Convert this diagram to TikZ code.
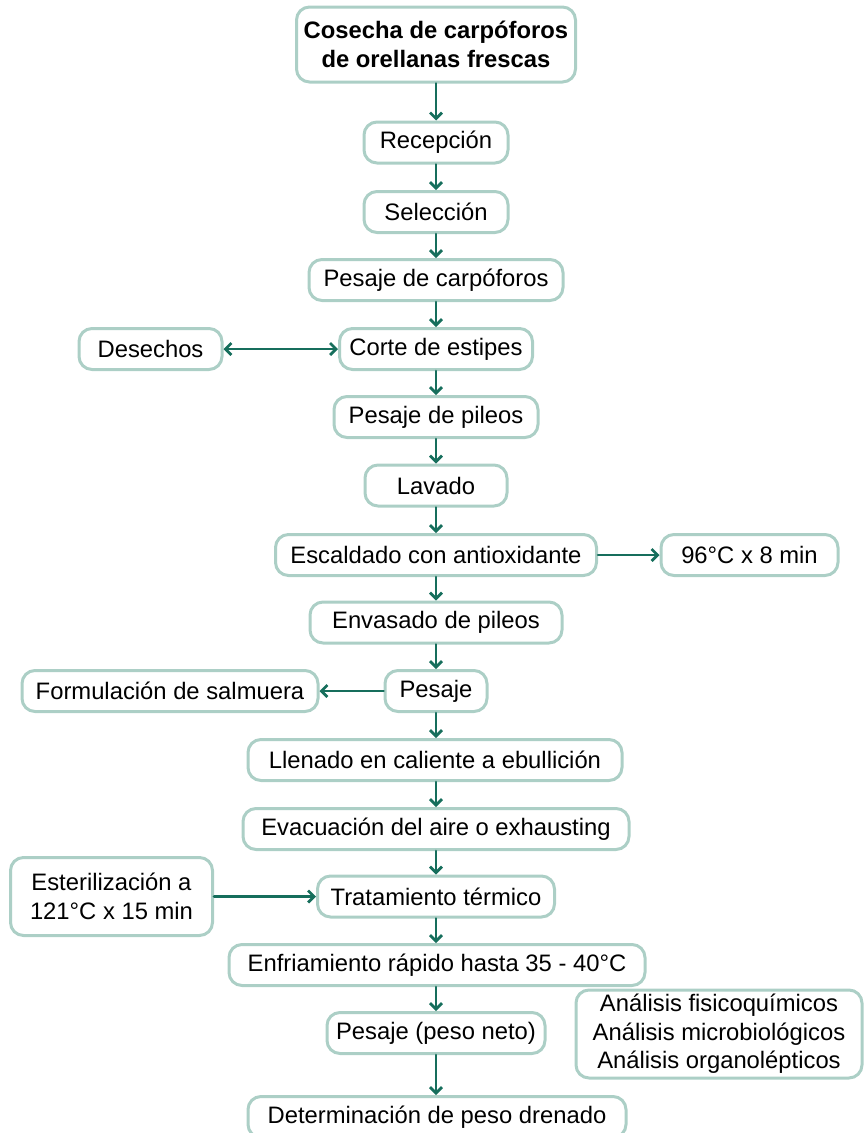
\documentclass[tikz,border=0pt]{standalone}
\usepackage{fontspec}
\setmainfont{Liberation Sans}
\usetikzlibrary{arrows.meta}
\definecolor{borde}{RGB}{172,207,198}
\definecolor{flecha}{RGB}{22,110,92}
\tikzset{
caja/.style={draw=borde,line width=3pt,rounded corners=13pt,fill=white,align=center,minimum height=41pt,inner xsep=6pt,inner ysep=3pt},
flujo/.style={draw=flecha,line width=2.7pt}
}
\begin{document}
\begin{tikzpicture}[x=1pt,y=1pt,line cap=round,>={Straight Barb[length=6pt,width=12pt]},font=\fontsize{23.8}{28.5}\selectfont]
\useasboundingbox (0,0) rectangle (864,-1133);
\node[caja,minimum width=279pt,minimum height=75pt,font=\fontsize{23.8}{28.5}\selectfont\bfseries] (cosecha) at (436,-44.5) {Cosecha de carpóforos\\de orellanas frescas};
\node[caja,minimum width=144pt] (recep) at (436,-142.5) {Recepción};
\node[caja,minimum width=144pt] (selec) at (436,-212) {Selección};
\node[caja,minimum width=254pt] (pcarp) at (436,-280) {Pesaje de carpóforos};
\node[caja,minimum width=193pt] (corte) at (436,-349) {Corte de estipes};
\node[caja,minimum width=143pt] (desechos) at (150.5,-349) {Desechos};
\node[caja,minimum width=204pt] (pileos) at (436,-417) {Pesaje de pileos};
\node[caja,minimum width=142pt] (lavado) at (436,-485.5) {Lavado};
\node[caja,minimum width=321pt] (escaldado) at (436,-555) {Escaldado con antioxidante};
\node[caja,minimum width=177pt] (temp) at (749.5,-555) {96°C x 8 min};
\node[caja,minimum width=252pt] (envasado) at (436,-622.5) {Envasado de pileos};
\node[caja,minimum width=102pt] (pesaje) at (436,-691) {Pesaje};
\node[caja,minimum width=296pt] (formul) at (170,-691) {Formulación de salmuera};
\node[caja,minimum width=374pt] (llenado) at (435,-760) {Llenado en caliente a ebullición};
\node[caja,minimum width=386pt] (evacua) at (436,-829) {Evacuación del aire o exhausting};
\node[caja,minimum width=237pt] (trata) at (436,-896.5) {Tratamiento térmico};
\node[caja,minimum width=202pt,minimum height=78pt] (esteril) at (111.5,-896.5) {Esterilización a\\121°C x 15 min};
\node[caja,minimum width=416pt] (enfria) at (437,-965) {Enfriamiento rápido hasta 35 - 40°C};
\node[caja,minimum width=218pt] (pneto) at (436,-1033) {Pesaje (peso neto)};
\node[caja,minimum width=286pt,minimum height=88pt] (analisis) at (719,-1034) {Análisis fisicoquímicos\\Análisis microbiológicos\\Análisis organolépticos};
\node[caja,minimum width=378pt] (determ) at (437,-1117) {Determinación de peso drenado};
\draw[flujo,->] (cosecha) -- (recep);
\draw[flujo,->] (recep) -- (selec);
\draw[flujo,->] (selec) -- (pcarp);
\draw[flujo,->] (pcarp) -- (corte);
\draw[flujo,<->] (corte) -- (desechos);
\draw[flujo,->] (corte) -- (pileos);
\draw[flujo,->] (pileos) -- (lavado);
\draw[flujo,->] (lavado) -- (escaldado);
\draw[flujo,->] (escaldado) -- (temp);
\draw[flujo,->] (escaldado) -- (envasado);
\draw[flujo,->] (envasado) -- (pesaje);
\draw[flujo,->] (pesaje) -- (formul);
\draw[flujo,->] (pesaje.south) -- (llenado.north -| pesaje);
\draw[flujo,->] (llenado.south -| pesaje) -- (evacua.north -| pesaje);
\draw[flujo,->] (evacua) -- (trata);
\draw[flujo,->] (esteril) -- (trata);
\draw[flujo,->] (trata.south) -- (enfria.north -| trata);
\draw[flujo,->] (enfria.south -| trata) -- (pneto);
\draw[flujo,->] (pneto.south) -- (determ.north -| pneto);
\end{tikzpicture}
\end{document}
